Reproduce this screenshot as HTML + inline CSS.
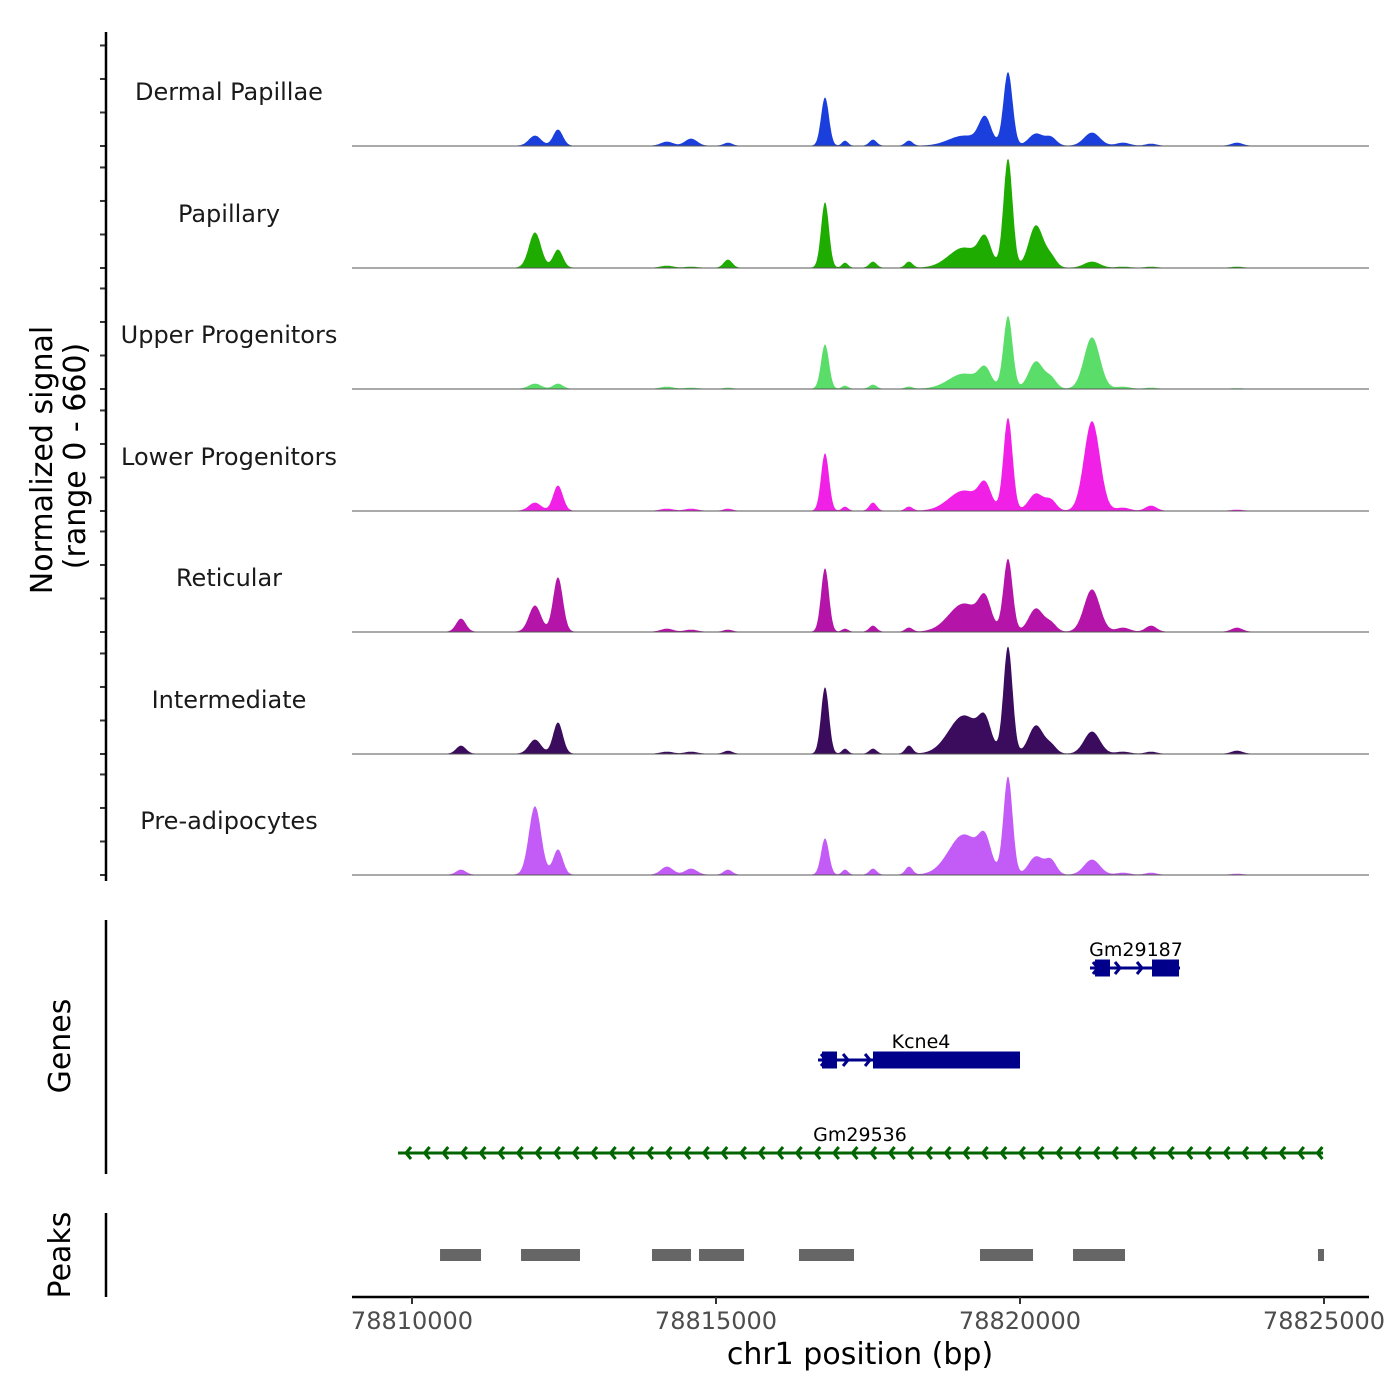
<!DOCTYPE html>
<html><head><meta charset="utf-8"><style>
html,body{margin:0;padding:0;background:#fff;}
svg{display:block;font-family:"DejaVu Sans","Liberation Sans",sans-serif;}
</style></head><body>
<svg id="chart" width="1400" height="1400" viewBox="0 0 1400 1400" xmlns="http://www.w3.org/2000/svg">
<rect width="1400" height="1400" fill="#fff"/>
<g id="tracks"></g>
<g id="yaxis"></g>
<text transform="translate(52,460) rotate(-90)" text-anchor="middle" font-size="30" fill="#000">Normalized signal</text>
<text transform="translate(85,456) rotate(-90)" text-anchor="middle" font-size="30" fill="#000">(range 0 - 660)</text>
<line x1="106" y1="920" x2="106" y2="1174" stroke="#000" stroke-width="2.5"/>
<text transform="translate(70,1046) rotate(-90)" text-anchor="middle" font-size="30">Genes</text>
<g id="genes"></g>
<line x1="106" y1="1213" x2="106" y2="1297" stroke="#000" stroke-width="2.5"/>
<text transform="translate(70,1255) rotate(-90)" text-anchor="middle" font-size="30">Peaks</text>
<g id="peaks"></g>
<g id="xaxis"></g>
<text x="860" y="1364" text-anchor="middle" font-size="30">chr1 position (bp)</text>
</svg>
<script>
// ---- data ----
const trackNames = ["Dermal Papillae","Papillary","Upper Progenitors","Lower Progenitors","Reticular","Intermediate","Pre-adipocytes"];
const trackColors = ["#1a3fdc","#1fac00","#5bdd6a","#f020e6","#b514a8","#3b0b5e","#c35cf6"];
const peakCenters = [78810806,78812023,78812401,78814194,78814589,78815197,78816793,78817122,78817582,78818174,78819079,78819426,78819803,78820263,78820510,78821184,78821694,78822155,78823569];
const peakSigmas = [80,100,80,100,100,70,65,50,60,60,250,100,75,120,90,130,110,90,90];
const sigDermal = [0,60,96,24,42,18,288,30,36,30,60,156,438,72,48,78,18,12,18];
const sigPapillary = [0,210,108,12,6,48,390,30,36,36,120,150,648,252,60,36,6,6,6];
const sigUpper = [0,30,30,12,6,6,264,18,24,12,90,102,432,162,60,306,12,6,3];
const sigLower = [0,48,150,12,12,12,342,24,48,24,120,132,552,102,60,534,18,30,6];
const sigReticular = [78,156,324,18,12,12,378,18,36,24,168,162,432,138,48,252,24,36,24];
const sigIntermediate = [48,84,186,12,12,18,396,30,30,48,228,150,636,168,48,132,12,12,18];
const sigPreadipo = [30,408,150,48,36,30,216,30,36,48,240,162,582,108,84,90,12,12,6];
const signalStart = 78809770, signalEnd = 78825000;
const peakStarts = [78810461,78811793,78813947,78814720,78816365,78819342,78820872,78824901];
const peakEnds = [78811135,78812763,78814589,78815461,78817270,78820214,78821727,78825000];
const xTicks = [78810000,78815000,78820000,78825000];
const yTicks = [0,200,400,600];
const yMax = 660;

// ---- scales ----
const NS="http://www.w3.org/2000/svg";
const X0=412, X1=1324, B0=78810000, B1=78825000;
function xs(bp){return X0+(bp-B0)*(X1-X0)/(B1-B0);}
const trackH=110.6;
function ys(v,base){return base - v/yMax*trackH;}
function mk(tag,attrs,parent){const e=document.createElementNS(NS,tag);for(const k in attrs)e.setAttribute(k,attrs[k]);parent.appendChild(e);return e;}

const series=[sigDermal,sigPapillary,sigUpper,sigLower,sigReticular,sigIntermediate,sigPreadipo];
const baselines=[146,268,389,511,632,754,875];
const gT=document.getElementById('tracks'), gY=document.getElementById('yaxis');
series.forEach((s,ti)=>{
  const base=baselines[ti];
  let d="M"+xs(signalStart).toFixed(1)+","+base;
  for(let bp=signalStart;bp<=signalEnd;bp+=12){
    let v=2;
    for(let i=0;i<peakCenters.length;i++){const z=(bp-peakCenters[i])/peakSigmas[i];if(Math.abs(z)<5)v+=s[i]*Math.exp(-0.5*z*z);}
    v=Math.min(v,yMax);
    d+=" L"+xs(bp).toFixed(1)+","+ys(v,base).toFixed(1);
  }
  d+=" L"+xs(signalEnd).toFixed(1)+","+base+" Z";
  const p=mk('path',{d:d,fill:trackColors[ti],stroke:'none'},gT);
  
  
  const l=mk('line',{x1:352,x2:1369,y1:base,y2:base,stroke:'#555','stroke-width':1},gT);
  
  
  const t=mk('text',{x:229,y:base-46,'text-anchor':'middle','font-size':24,fill:'#1a1a1a'},gT);
  t.textContent=trackNames[ti];
  
  
  yTicks.forEach(v=>{
    const tk=mk('line',{x1:100,x2:106,y1:ys(v,base),y2:ys(v,base),stroke:'#333','stroke-width':2},gY);
    
    
  });
});
const ya=mk('line',{x1:106,x2:106,y1:32,y2:881,stroke:'#000','stroke-width':2.5},gY);



// ---- genes ----
const gG=document.getElementById('genes');
function chevrons(x1,x2,y,dir,color,step){
  for(let x=x1+8;x<x2-4;x+=step){
    const c=mk('polyline',{points:(x-5*dir)+","+(y-6)+" "+x+","+y+" "+(x-5*dir)+","+(y+6),fill:'none',stroke:color,'stroke-width':3},gG);
    
    
  }
}
function gene(name,s,e,exons,y,color,dir,labelX){
  const l=mk('line',{x1:xs(s),x2:xs(e),y1:y,y2:y,stroke:color,'stroke-width':3},gG);
  
  
  chevrons(xs(s),xs(e),y,dir,color,dir>0?22:18.6);
  exons.forEach(ex=>{
    const r=mk('rect',{x:xs(ex[0]),y:y-8.5,width:xs(ex[1])-xs(ex[0]),height:17,fill:color},gG);
    
    
  });
  const t=mk('text',{x:labelX,y:y-12,'text-anchor':'middle','font-size':19,fill:'#000'},gG);
  t.textContent=name;
  
  
}
gene("Gm29187",78821151,78822632,[[78821234,78821480],[78822171,78822615]],968,"#00008b",1,1136);
gene("Kcne4",78816678,78820000,[[78816743,78816990],[78817582,78820000]],1060,"#00008b",1,921);
gene("Gm29536",78809770,78824984,[],1153,"#006400",-1,860);

// ---- peaks ----
const gP=document.getElementById('peaks');
peakStarts.forEach((s,i)=>{
  const r=mk('rect',{x:xs(s),y:1249,width:Math.max(5,xs(peakEnds[i])-xs(s)),height:12,fill:'#666'},gP);
  
  
});

// ---- x axis ----
const gX=document.getElementById('xaxis');
const xl=mk('line',{x1:352,x2:1369,y1:1297,y2:1297,stroke:'#000','stroke-width':2.5},gX);


xTicks.forEach(v=>{
  const tk=mk('line',{x1:xs(v),x2:xs(v),y1:1297,y2:1304,stroke:'#333','stroke-width':2},gX);
  
  
  const t=mk('text',{x:xs(v),y:1329,'text-anchor':'middle','font-size':24,fill:'#4d4d4d'},gX);
  t.textContent=String(v);
  
  
});
</script>
</body></html>
